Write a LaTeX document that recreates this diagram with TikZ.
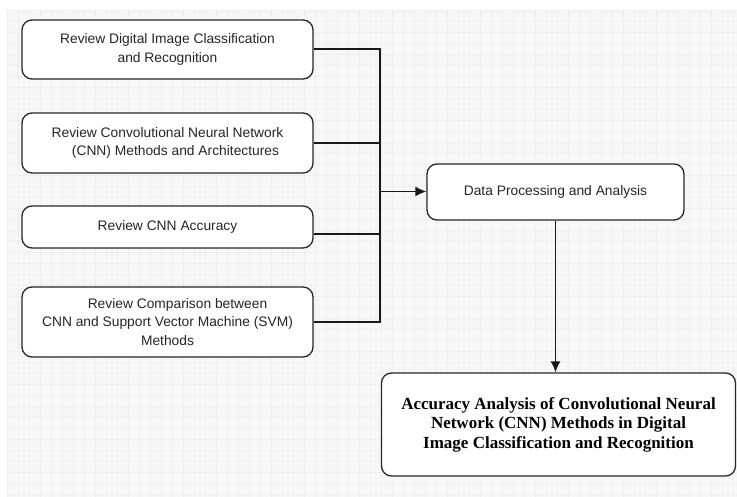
\documentclass[tikz,border=0pt]{standalone}
\usepackage{fontspec}
\setmainfont{Liberation Sans}
\newfontfamily\serifbold{Liberation Serif}
\usetikzlibrary{arrows.meta}
\definecolor{bgpage}{HTML}{F7F7F7}
\definecolor{gridc}{HTML}{EEEEEE}
\tikzset{
  revbox/.style={draw=black!85, line width=1.3pt, rounded corners=10pt, fill=white,
    minimum width=291pt, align=center, inner sep=0pt, text=black!85,
    font=\fontsize{13.8pt}{18.5pt}\selectfont},
  conn/.style={line width=1.4pt, draw=black!90},
  arr/.style={conn, -{Latex[length=11pt,width=10pt]}}
}
\begin{document}
\begin{tikzpicture}[x=1pt,y=-1pt]
\useasboundingbox (0,0) rectangle (737,497);
\fill[white] (0,0) rectangle (737,497);
\fill[bgpage] (7,10) rectangle (737,497);
\begin{scope}
\clip (7,10) rectangle (737,497);
\foreach \i in {0,...,67} {\draw[gridc, line width=0.5pt] (7+11*\i,10) -- (7+11*\i,497);}
\foreach \j in {0,...,45} {\draw[gridc, line width=0.5pt] (7,10+11*\j) -- (737,10+11*\j);}
\end{scope}

\node[revbox, minimum height=59pt] (b1) at (167.5,49.5) {Review Digital Image Classification\\and Recognition};
\node[revbox, minimum height=60pt] (b2) at (167.5,143) {Review Convolutional Neural Network\\\hspace*{16pt}(CNN) Methods and Architectures};
\node[revbox, minimum height=42pt] (b3) at (167.5,227) {Review CNN Accuracy};
\node[revbox, minimum height=70pt] (b4) at (167.5,322) {\hspace*{20pt}Review Comparison between\\CNN and Support Vector Machine (SVM)\\Methods};

\node[revbox, minimum width=257pt, minimum height=56pt] (b5) at (555.5,192) {Data Processing and Analysis};
\node[revbox, minimum width=354pt, minimum height=103pt, text=black,
  font=\serifbold\bfseries\fontsize{17pt}{19.5pt}\selectfont] (b6) at (558.5,424.5)
  {Accuracy Analysis of Convolutional Neural\\Network (CNN) Methods in Digital\\Image Classification and Recognition};

\coordinate (t1) at (380,49);
\coordinate (t2) at (380,143);
\coordinate (t3) at (380,234);
\coordinate (t4) at (380,322);
\coordinate (tm) at (380,191.5);

\draw[conn] (b1.east |- t1) -- (t1) -- (t4) -- (b4.east |- t4);
\draw[conn] (b2.east |- t2) -- (t2);
\draw[conn] (b3.east |- t3) -- (t3);
\draw[arr] (tm) -- (b5.west |- tm);
\draw[arr] (b5.south) -- (b5.south |- b6.north);
\end{tikzpicture}
\end{document}
